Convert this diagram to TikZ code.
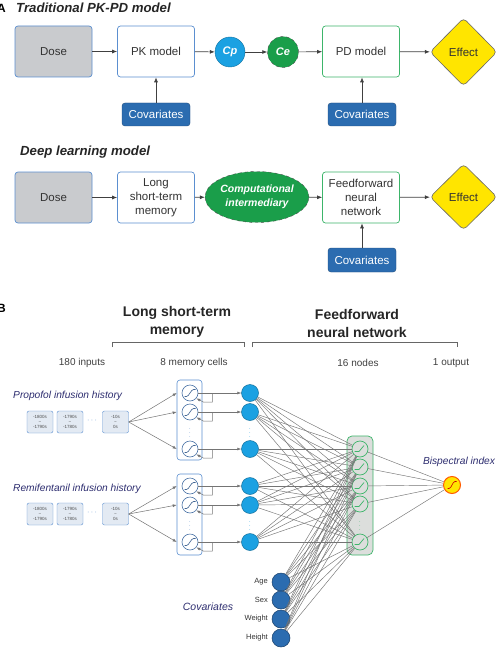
\documentclass[tikz,border=0pt]{standalone}
\usepackage{fontspec}
\setmainfont{Liberation Sans}
\usetikzlibrary{shapes.geometric,arrows.meta,calc}
\definecolor{cyanb}{HTML}{1BA1E2}
\definecolor{darkb}{HTML}{2B6CB0}
\definecolor{grn}{HTML}{1A9E4A}
\definecolor{grayfill}{HTML}{C9CBCE}
\definecolor{ylw}{HTML}{FFE500}
\definecolor{bordb}{HTML}{5B8FD0}
\definecolor{bordg}{HTML}{3DB56A}
\definecolor{navy}{HTML}{2E2E70}
\definecolor{linegray}{HTML}{747474}
\definecolor{inboxfill}{HTML}{E3EAF3}
\definecolor{hidfill}{HTML}{DCDEDC}
\tikzset{
  box/.style={draw=bordb, line width=0.7pt, rounded corners=3pt, minimum width=77, minimum height=51, align=center, font=\fontsize{11.5}{14}\selectfont, text=black!80, fill=white},
  dosebox/.style={box, fill=grayfill},
  pdbox/.style={box, draw=bordg},
  covbox/.style={draw=darkb!70!black, fill=darkb, rounded corners=3pt, minimum width=68, minimum height=23, text=white, font=\fontsize{11.5}{12}\selectfont, inner sep=1pt},
  arr/.style={-{Latex[length=5pt,width=4pt]}, draw=black!75, line width=0.7pt},
  arrg/.style={-{Latex[length=4pt,width=3pt]}, draw=linegray, line width=0.5pt},
  effect/.style={diamond, draw=black!60, fill=ylw, line width=0.6pt, rounded corners=4pt, minimum width=67, minimum height=68, inner sep=0, font=\fontsize{11.5}{12}\selectfont, text=black!80},
  titletxt/.style={font=\bfseries\itshape\fontsize{13.2}{15}\selectfont, text=black!85, anchor=west, inner sep=0},
  inbox/.style={draw=bordb, fill=inboxfill, rounded corners=2pt, minimum width=26, minimum height=22, font=\fontsize{4.5}{4.8}\selectfont, align=center, inner sep=0, text=black!70},
  lstmcell/.style={circle, draw=bordb!80!black, fill=white, minimum size=16, inner sep=0, line width=0.6pt,
    path picture={\draw[bordb!70!black, line width=0.6pt] ([shift={(-5.5pt,-3.5pt)}]path picture bounding box.center) -- ++(2pt,0pt) .. controls +(2.5pt,0pt) and +(-2.5pt,0pt) .. ++(7pt,7pt) -- ++(2pt,0pt);}},
  gcell/.style={circle, draw=bordg, fill=hidfill, minimum size=16, inner sep=0, line width=0.7pt,
    path picture={\draw[bordg, line width=0.7pt] ([shift={(-5.5pt,-2.5pt)}]path picture bounding box.center) -- ++(4.5pt,0pt) -- ++(5pt,6pt);}},
  hcirc/.style={circle, fill=cyanb, draw=cyanb!70!black, minimum size=17, inner sep=0, line width=0.5pt},
  ccirc/.style={circle, fill=darkb, draw=darkb!60!black, minimum size=18, inner sep=0, line width=0.5pt},
  ocirc/.style={circle, fill=ylw, draw=orange!70!red, minimum size=17, inner sep=0, line width=1pt,
    path picture={\draw[red!80!black, line width=0.6pt] ([shift={(-4.5pt,-3.5pt)}]path picture bounding box.center) -- ++(1.5pt,0pt) .. controls +(2.5pt,0pt) and +(-2.5pt,0pt) .. ++(6pt,7pt) -- ++(1.5pt,0pt);}},
  nn/.style={draw=linegray, line width=0.45pt},
  small/.style={font=\fontsize{10}{12}\selectfont, text=black!75},
  navytxt/.style={font=\itshape\fontsize{10.2}{12}\selectfont, text=navy},
  vdot/.style={font=\fontsize{5.5}{5.5}\selectfont, inner sep=0},
  bracket/.style={draw=black!60, line width=0.6pt}
}
\begin{document}
\begin{tikzpicture}[x=1pt,y=-1pt]
\useasboundingbox (0,0) rectangle (503,658);
\fill[white] (0,0) rectangle (503,658);

% ---------------- Part A ----------------
\node[font=\bfseries\fontsize{12}{14}\selectfont, inner sep=0, anchor=east] (labA) at (6,8) {A};
\node[titletxt] (t1) at (16,8) {Traditional PK-PD model};

\node[dosebox] (dose1) at (53.5,51.5) {Dose};
\node[box] (pk) at (156,51.5) {PK model};
\node[circle, fill=cyanb, draw=cyanb!70!black, minimum size=30, inner sep=0, text=white, font=\bfseries\itshape\fontsize{11}{12}\selectfont] (cp) at (230,52) {Cp};
\node[circle, fill=grn, draw=black!70, dashed, minimum size=31, inner sep=0, text=white, font=\bfseries\itshape\fontsize{11}{12}\selectfont] (ce) at (283,52) {Ce};
\node[pdbox] (pd) at (361,51.5) {PD model};
\node[effect] (eff1) at (463.5,52) {Effect};
\node[covbox] (cov1) at (156,114.5) {Covariates};
\node[covbox] (cov2) at (362,114.5) {Covariates};

\draw[arr] (dose1) -- (pk);
\draw[arr] (pk) -- (cp);
\draw[arr] (cp) -- (ce);
\draw[arr] (ce) -- (pd);
\draw[arr] (pd) -- (eff1);
\draw[arr] (cov1) -- (pk);
\draw[arr] (cov2) -- (pd.south -| cov2);

\node[titletxt] (t2) at (20,152) {Deep learning model};
\node[dosebox] (dose2) at (53.5,197.5) {Dose};
\node[box] (lstm) at (156,197.5) {Long\\short-term\\memory};
\node[ellipse, fill=grn, draw=black!70, dashed, minimum width=88, minimum height=51, inner sep=0, align=center, text=white, font=\bfseries\itshape\fontsize{10.5}{13.5}\selectfont] (ci) at (257,197) {Computational\\intermediary};
\node[pdbox] (ff) at (361,197.5) {Feedforward\\neural\\network};
\node[effect, minimum height=66] (eff2) at (463.5,197) {Effect};
\node[covbox, minimum height=24] (cov3) at (362,260) {Covariates};

\draw[arr] (dose2) -- (lstm);
\draw[arr] (lstm) -- (ci);
\draw[arr] (ci) -- (ff);
\draw[arr] (ff) -- (eff2);
\draw[arr] (cov3) -- (ff.south -| cov3);

% ---------------- Part B ----------------
\node[font=\bfseries\fontsize{12}{14}\selectfont, inner sep=0, anchor=east] (labB) at (6,308) {B};
\node[font=\bfseries\fontsize{14}{18}\selectfont, align=center, text=black!85] (hl) at (177,322) {Long short-term\\memory};
\node[font=\bfseries\fontsize{14}{18}\selectfont, align=center, text=black!85] (hf) at (357,323) {Feedforward\\neural network};
\draw[bracket] (112,347) -- (112,342) -- (244,342) -- (244,347);
\draw[bracket] (252,347) -- (252,342) -- (457,342) -- (457,347);

\node[small] (n1) at (82,363) {180 inputs};
\node[small] (n2) at (194,363) {8 memory cells};
\node[small] (n3) at (358,363) {16 nodes};
\node[small] (n4) at (451,363) {1 output};

% input histories
\node[navytxt, anchor=west, inner sep=0] (ph) at (13,396) {Propofol infusion history};
\node[inbox] (b11) at (40,422) {-1800s\\\textasciitilde\\-1790s};
\node[inbox] (b12) at (70,422) {-1790s\\\textasciitilde\\-1780s};
\node[text=bordb, font=\fontsize{8}{8}\selectfont, inner sep=0] (bd1) at (92,421) {$\cdots$};
\node[inbox] (b13) at (115.5,422) {-10s\\\textasciitilde\\0s};

\node[navytxt, anchor=west, inner sep=0] (rh) at (13,489) {Remifentanil infusion history};
\node[inbox] (b21) at (40,514) {-1800s\\\textasciitilde\\-1790s};
\node[inbox] (b22) at (70,514) {-1790s\\\textasciitilde\\-1780s};
\node[text=bordb, font=\fontsize{8}{8}\selectfont, inner sep=0] (bd2) at (92,513) {$\cdots$};
\node[inbox] (b23) at (115.5,514) {-10s\\\textasciitilde\\0s};

% LSTM groups
\node[draw=bordb, rounded corners=3pt, minimum width=25, minimum height=80, inner sep=0, line width=0.6pt] (g1) at (189.5,420) {};
\node[draw=bordb, rounded corners=3pt, minimum width=25, minimum height=81, inner sep=0, line width=0.6pt] (g2) at (189.5,514.5) {};

\node[lstmcell] (l1a) at (190,393) {};
\node[lstmcell] (l1b) at (190,412) {};
\node[vdot, text=bordb] (l1d) at (190,430.5) {$\vdots$};
\node[lstmcell] (l1c) at (190,449) {};
\node[lstmcell] (l2a) at (190,486) {};
\node[lstmcell] (l2b) at (190,505) {};
\node[vdot, text=bordb] (l2d) at (190,523.5) {$\vdots$};
\node[lstmcell] (l2c) at (190,542) {};

\node[hcirc] (h1a) at (250,393) {};
\node[hcirc] (h1b) at (250,412) {};
\node[vdot, text=cyanb] (h1d) at (250,430.5) {$\vdots$};
\node[hcirc] (h1c) at (250,449) {};
\node[hcirc] (h2a) at (250,486) {};
\node[hcirc] (h2b) at (250,505) {};
\node[vdot, text=cyanb] (h2d) at (250,523.5) {$\vdots$};
\node[hcirc] (h2c) at (250,542) {};

\foreach \c in {l1a,l1b,l1c}{
  \draw[arrg] (b13.east) -- (\c -| g1.west);
}
\foreach \c in {l2a,l2b,l2c}{
  \draw[arrg] (b23.east) -- (\c -| g2.west);
}
\foreach \c/\h in {l1a/h1a,l1b/h1b,l1c/h1c,l2a/h2a,l2b/h2b,l2c/h2c}{
  \draw[arrg] (\c.east) -- (\h.west);
  \draw[arrg] ($(\c.east)+(14pt,0pt)$) -- ++(0pt,-9pt) -- ++(-9pt,0pt) -- (\c.-40);
}

% hidden layer
\node[draw=bordg, fill=hidfill, rounded corners=5pt, minimum width=26, minimum height=119, inner sep=0, line width=0.7pt] (gbox) at (360,495.5) {};
\node[gcell] (gc1) at (360,449) {};
\node[gcell] (gc2) at (360,467) {};
\node[gcell] (gc3) at (360,486) {};
\node[gcell] (gc4) at (360,504) {};
\node[vdot, text=bordg] (gcd) at (360,523.5) {$\vdots$};
\node[gcell] (gc5) at (360,542) {};

% output
\node[ocirc] (out) at (452,485) {};
\node[navytxt] (bis) at (459,462) {Bispectral index};

% covariates
\node[ccirc] (c1) at (281,582) {};
\node[ccirc] (c2) at (281,600) {};
\node[ccirc] (c3) at (281,619) {};
\node[ccirc] (c4) at (281,638) {};
\node[font=\fontsize{7.5}{9}\selectfont, text=black!80, anchor=east, inner sep=0] (ca) at (268,582) {Age};
\node[font=\fontsize{7.5}{9}\selectfont, text=black!80, anchor=east, inner sep=0] (cs) at (268,600) {Sex};
\node[font=\fontsize{7.5}{9}\selectfont, text=black!80, anchor=east, inner sep=0] (cw) at (268,619) {Weight};
\node[font=\fontsize{7.5}{9}\selectfont, text=black!80, anchor=east, inner sep=0] (ch) at (268,638) {Height};
\node[navytxt, font=\itshape\fontsize{10.5}{12}\selectfont] (covt) at (208,607) {Covariates};

% dense connections
\foreach \h in {h1a,h1b,h1c,h2a,h2b,h2c,c1,c2,c3,c4}{
  \foreach \g in {gc1,gc2,gc3,gc4,gc5}{
    \draw[nn] (\h) -- (\g);
  }
}
\foreach \g in {gc1,gc2,gc3,gc4,gc5}{
  \draw[nn] (\g) -- (out);
}
\end{tikzpicture}
\end{document}
